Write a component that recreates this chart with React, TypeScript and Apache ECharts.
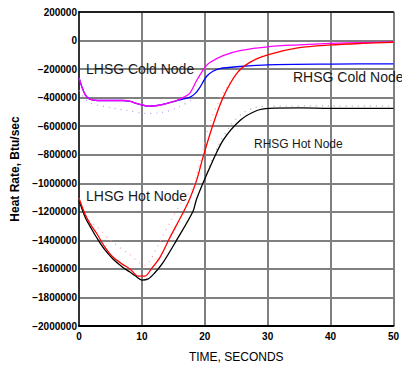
import React, { useEffect, useRef } from "react";
import * as echarts from "echarts";

// time (s), heat rate (Btu/sec)
const lhsgColdT = [0, 0.5, 1, 1.7, 3, 5, 7, 8, 9.5, 11, 12.5, 14, 15.5, 16.5, 17.6, 18.7, 20, 20.8, 22.9, 25.6, 30.3, 35, 40, 45, 50];
const lhsgColdV = [-260000, -330000, -380000, -410000, -420000, -420000, -420000, -425000, -445000, -460000, -455000, -440000, -420000, -400000, -370000, -280000, -189000, -154000, -105000, -70000, -42000, -30000, -20000, -14000, -10000];

const rhsgColdT = [0, 0.5, 1, 1.7, 3, 5, 7, 8, 9.5, 11, 12.5, 14, 15.5, 16.5, 17.6, 18.5, 19.2, 20.3, 21.3, 22.4, 25.6, 30, 40, 50];
const rhsgColdV = [-260000, -330000, -380000, -410000, -420000, -420000, -420000, -425000, -445000, -460000, -455000, -440000, -422000, -410000, -398000, -370000, -330000, -250000, -215000, -196000, -182000, -170000, -165000, -163000];

const lhsgHotT = [0, 1, 2, 2.8, 4, 5.4, 7, 8.1, 9.4, 10.5, 11.5, 12.9, 14.4, 16.5, 17.6, 18.7, 19.7, 21.3, 22.9, 25, 27.1, 30, 35, 40, 45, 50];
const lhsgHotV = [-1105000, -1220000, -1300000, -1350000, -1440000, -1517000, -1570000, -1600000, -1650000, -1650000, -1600000, -1517000, -1385000, -1210000, -1110000, -980000, -820000, -590000, -400000, -235000, -155000, -100000, -50000, -31000, -20000, -12000];

const rhsgHotT = [0, 1, 2, 2.8, 4, 5.4, 7, 8.1, 9, 10, 11, 12, 13.3, 15.5, 18.1, 18.7, 20.8, 22.9, 25.6, 28.3, 30.3, 35, 40, 50];
const rhsgHotV = [-1120000, -1240000, -1320000, -1380000, -1460000, -1530000, -1590000, -1622000, -1650000, -1678000, -1670000, -1630000, -1560000, -1400000, -1200000, -1110000, -890000, -700000, -560000, -490000, -475000, -472000, -475000, -475000];

const coldRefT = [0, 0.9, 1.9, 5, 7.7, 10.5, 13, 15.7, 17.8];
const coldRefV = [-350000, -405000, -440000, -470000, -490000, -510000, -505000, -470000, -420000];

const hotRefT = [0, 1.4, 3, 5, 7.8, 10.5, 11.3, 12.4, 14.4, 16.5, 18.1, 19.5, 20.8, 22.9, 25.6, 28, 30];
const hotRefV = [-1105000, -1250000, -1310000, -1400000, -1490000, -1575000, -1540000, -1450000, -1280000, -1120000, -1030000, -800000, -580000, -370000, -210000, -130000, -95000];

const rhHotRefT = [20, 22, 24, 26, 28, 30, 40, 50];
const rhHotRefV = [-960000, -750000, -600000, -510000, -470000, -460000, -458000, -458000];

const xTicks = { min: 0, max: 50, interval: 10 };
const yTicks = { min: -2000000, max: 200000, interval: 200000 };

const labels = [
  { text: "LHSG Cold Node", x: 86, y: 69, size: 14 },
  { text: "RHSG Cold Node", x: 293, y: 77, size: 14 },
  { text: "LHSG Hot Node", x: 86, y: 196, size: 14 },
  { text: "RHSG Hot Node", x: 254, y: 144, size: 12 },
];

const zip = (t: number[], v: number[]) => t.map((x, i) => [x, v[i]]);
const FONT = "Liberation Sans, Arial, Helvetica, sans-serif";

export default function App() {
  const ref = useRef<HTMLDivElement>(null);
  useEffect(() => {
    if (!ref.current) return;
    const chart = echarts.init(ref.current, undefined, { renderer: "svg" });
    const solid = (name: string, t: number[], v: number[], color: string) => ({
      name,
      type: "line",
      data: zip(t, v),
      showSymbol: false,
      smooth: 0.3,
      lineStyle: { color, width: 1.3 },
      z: 5,
    });
    const dotted = (name: string, t: number[], v: number[], color: string) => ({
      name,
      type: "line",
      data: zip(t, v),
      showSymbol: false,
      smooth: 0.3,
      lineStyle: { color, width: 1.2, type: [1, 5] },
      z: 4,
    });
    chart.setOption({
      animation: false,
      backgroundColor: "#fff",
      grid: { left: 79, right: 8, top: 12, bottom: 45, containLabel: false },
      xAxis: [
        {
          type: "value",
          ...xTicks,
          position: "bottom",
          axisLine: { show: true, onZero: false, lineStyle: { color: "#000", width: 2 } },
          axisTick: { show: false },
          splitLine: { show: true, lineStyle: { color: "#808080", width: 2 } },
          axisLabel: { color: "#000", fontFamily: FONT, fontWeight: "bold", fontSize: 10, margin: 5 },
          name: "TIME, SECONDS",
          nameLocation: "middle",
          nameGap: 25,
          nameTextStyle: { color: "#000", fontFamily: FONT, fontSize: 12 },
        },
        {
          type: "value",
          ...xTicks,
          position: "top",
          axisLine: { show: true, onZero: false, lineStyle: { color: "#000", width: 1.5 } },
          axisTick: { show: false },
          axisLabel: { show: false },
          splitLine: { show: false },
        },
      ],
      yAxis: {
        type: "value",
        ...yTicks,
        axisLine: { show: true, onZero: false, lineStyle: { color: "#333", width: 2 } },
        axisTick: { show: false },
        splitLine: { show: true, lineStyle: { color: "#808080", width: 2 } },
        axisLabel: {
          color: "#000",
          fontFamily: FONT,
          fontWeight: "bold",
          fontSize: 10,
          margin: 2,
          formatter: (v: number) => String(v).replace("-", "\u2212"),
        },
        name: "Heat Rate, Btu/sec",
        nameLocation: "middle",
        nameGap: 55,
        nameTextStyle: { color: "#000", fontFamily: FONT, fontWeight: "bold", fontSize: 12 },
      },
      series: [
        dotted("LHSG Cold ref", coldRefT, coldRefV, "#b59cf5"),
        dotted("LHSG Hot ref", hotRefT, hotRefV, "#f5a0a8"),
        dotted("RHSG Hot ref", rhHotRefT, rhHotRefV, "#a8a8a8"),
        solid("RHSG Cold Node", rhsgColdT, rhsgColdV, "#0000ff"),
        solid("LHSG Cold Node", lhsgColdT, lhsgColdV, "#ff00ff"),
        solid("RHSG Hot Node", rhsgHotT, rhsgHotV, "#000000"),
        solid("LHSG Hot Node", lhsgHotT, lhsgHotV, "#ff0000"),
      ],
      graphic: labels.map((l) => ({
        type: "text",
        x: l.x,
        y: l.y,
        z: 10,
        style: {
          text: l.text,
          font: `${l.size}px ${FONT}`,
          fill: "#1a1a1a",
          textAlign: "left",
          textVerticalAlign: "middle",
        },
      })),
    });
    return () => chart.dispose();
  }, []);
  return (
    <div
      ref={ref}
      style={{ position: "absolute", left: 0, top: 0, width: 402, height: 371 }}
    />
  );
}
